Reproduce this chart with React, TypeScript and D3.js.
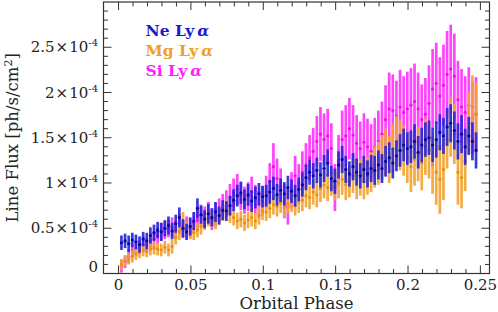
import * as d3 from 'd3';

// phase bins (uniform), flux values in units of 1e-5 ph/s/cm^2
const phaseStart = 0.002;
const phaseStep = 0.0025;

const neFlux = [
  3.4, 3.6, 3.3, 3.7, 3.5, 3.2, 3.8, 3.6, 4.2, 4.5,
  4.8, 4.6, 5.0, 5.3, 4.7, 5.5, 6.2, 5.0, 4.6, 5.2,
  5.8, 7.2, 6.5, 6.0, 6.6, 6.2, 6.8, 6.4, 7.0, 6.9,
  7.5, 8.1, 8.6, 8.9, 8.2, 8.7, 8.0, 8.4, 8.8, 8.5,
  8.6, 9.0, 9.4, 8.7, 9.2, 8.8, 9.5, 9.1, 8.6, 9.3,
  9.8, 10.6, 11.2, 10.8, 11.4, 10.9, 11.6, 12.2, 10.5, 10.2,
  12.0, 12.6, 11.5, 11.0, 11.8, 11.2, 10.8, 11.5, 11.0, 11.6,
  11.4, 12.0, 11.6, 12.4, 12.8, 12.2, 13.0, 13.6, 14.2, 13.8,
  14.0, 14.6, 13.4, 14.2, 14.8, 15.0, 14.2, 14.8, 15.6, 15.2,
  16.2, 16.6, 15.8, 14.6, 15.4, 14.0, 15.2, 14.6, 13.6,
];
const neErr = [
  0.8, 0.8, 0.9, 0.8, 0.8, 0.9, 0.8, 0.9, 0.9, 0.9,
  0.9, 1.0, 0.9, 1.0, 0.9, 1.0, 1.1, 1.0, 0.9, 1.0,
  1.0, 1.1, 1.0, 1.0, 1.1, 1.0, 1.1, 1.0, 1.1, 1.1,
  1.1, 1.2, 1.2, 1.2, 1.1, 1.2, 1.2, 1.2, 1.2, 1.2,
  1.2, 1.3, 1.3, 1.2, 1.3, 1.3, 1.3, 1.3, 1.2, 1.3,
  1.3, 1.4, 1.4, 1.4, 1.4, 1.4, 1.5, 1.5, 1.4, 1.4,
  1.5, 1.5, 1.5, 1.4, 1.5, 1.5, 1.4, 1.5, 1.5, 1.5,
  1.6, 1.6, 1.6, 1.7, 1.7, 1.7, 1.7, 1.8, 1.8, 1.8,
  1.8, 1.9, 1.8, 1.9, 1.9, 1.9, 1.9, 2.0, 2.0, 2.0,
  2.1, 2.1, 2.1, 2.0, 2.1, 2.0, 2.1, 2.1, 2.0,
];

const mgFlux = [
  1.0, 1.4, 1.6, 1.9, 2.2, 2.4, 2.6, 2.5, 2.7, 2.8,
  2.7, 2.6, 2.9, 2.6, 3.0, 4.0, 4.6, 5.8, 4.8, 4.6,
  4.5, 4.8, 5.2, 5.7, 6.1, 6.0, 5.8, 6.3, 6.8, 7.2,
  6.6, 6.2, 5.8, 6.0, 5.6, 5.9, 6.2, 5.8, 6.4, 6.9,
  6.8, 7.2, 7.6, 7.4, 7.8, 7.3, 7.7, 8.0, 7.5, 7.9,
  8.1, 8.6, 8.4, 9.0, 8.7, 9.4, 9.8, 9.5, 10.2, 9.7,
  10.0, 10.4, 9.8, 10.2, 10.8, 10.1, 10.6, 10.2, 10.8, 11.2,
  11.8, 12.2, 12.8, 13.4, 12.6, 13.8, 14.6, 14.2, 13.6, 12.8,
  11.8, 12.6, 13.2, 12.2, 14.0, 13.6, 12.0, 11.2, 10.4, 11.5,
  14.8, 16.2, 15.4, 11.2, 10.6, 12.4, 16.6, 18.4, 17.6,
];
const mgErr = [
  0.6, 0.6, 0.6, 0.7, 0.7, 0.7, 0.7, 0.7, 0.7, 0.7,
  0.7, 0.7, 0.7, 0.7, 0.8, 0.8, 0.9, 1.0, 0.9, 0.8,
  0.8, 0.8, 0.9, 0.9, 0.9, 0.9, 0.9, 0.9, 1.0, 1.0,
  1.0, 0.9, 0.9, 0.9, 0.9, 0.9, 1.0, 0.9, 1.0, 1.0,
  1.0, 1.1, 1.1, 1.1, 1.1, 1.1, 1.1, 1.2, 1.1, 1.2,
  1.2, 1.3, 1.3, 1.4, 1.4, 1.5, 1.5, 1.5, 1.6, 1.6,
  1.7, 1.7, 1.7, 1.8, 1.9, 1.9, 2.0, 2.0, 2.1, 2.2,
  2.3, 2.4, 2.5, 2.6, 2.6, 2.7, 2.8, 2.8, 2.8, 2.8,
  2.8, 2.9, 3.0, 3.0, 3.1, 3.1, 3.2, 3.6, 3.8, 3.4,
  3.2, 3.3, 3.3, 3.6, 3.4, 3.3, 3.4, 3.5, 3.5,
];

const siFlux = [
  0.8, 1.3, 1.9, 2.5, 2.7, 2.9, 3.2, 3.1, 3.6, 3.8,
  4.2, 4.6, 4.8, 5.0, 5.1, 4.8, 5.5, 4.9, 5.2, 5.0,
  5.6, 5.9, 6.4, 6.2, 6.6, 6.0, 6.5, 7.0, 7.4, 7.8,
  8.4, 8.9, 9.3, 8.6, 8.1, 8.5, 9.0, 8.2, 7.6, 8.0,
  9.0, 10.2, 11.8, 10.5, 9.6, 8.0, 7.4, 9.2, 10.8, 10.0,
  11.2, 12.0, 12.8, 13.5, 14.6, 15.4, 14.8, 15.2, 13.8, 9.5,
  12.5, 14.8, 15.2, 16.0, 15.3, 14.4, 13.8, 14.5, 14.0, 13.5,
  14.0, 14.6, 15.4, 17.0, 18.2, 18.0, 17.4, 18.4, 17.8, 18.2,
  18.6, 19.0, 18.2, 17.0, 17.6, 18.8, 20.4, 21.0, 19.6, 20.8,
  22.0, 22.6, 21.8, 19.2, 18.4, 17.8, 18.6, 17.2, 17.6,
];
const siErr = [
  0.7, 0.7, 0.8, 0.8, 0.8, 0.8, 0.9, 0.9, 0.9, 0.9,
  0.9, 1.0, 1.0, 1.0, 1.1, 1.0, 1.1, 1.0, 1.1, 1.1,
  1.1, 1.2, 1.2, 1.2, 1.3, 1.2, 1.3, 1.3, 1.4, 1.4,
  1.5, 1.6, 1.7, 1.6, 1.5, 1.6, 1.7, 1.6, 1.5, 1.6,
  1.8, 2.0, 2.6, 2.2, 2.0, 1.9, 2.0, 2.0, 2.2, 2.1,
  2.3, 2.4, 2.5, 2.6, 2.8, 3.0, 2.9, 3.0, 2.8, 2.6,
  2.8, 3.2, 3.4, 3.4, 3.3, 3.1, 3.0, 3.2, 3.1, 3.0,
  3.2, 3.4, 3.6, 3.8, 4.0, 4.0, 3.9, 4.1, 4.0, 4.1,
  4.1, 4.2, 4.0, 3.9, 4.0, 4.2, 4.4, 4.5, 4.3, 4.5,
  4.8, 4.9, 4.7, 4.3, 4.2, 4.0, 4.2, 4.0, 4.1,
];

const xMajor = [0, 0.05, 0.1, 0.15, 0.2, 0.25];
const xLabels = ['0', '0.05', '0.1', '0.15', '0.2', '0.25'];
const yMajor = [0, 0.5e-4, 1e-4, 1.5e-4, 2e-4, 2.5e-4];
const yLabels = ['0', '0.5', '1', '1.5', '2', '2.5'];

const series = [
  { name: 'Si Ly', flux: siFlux, err: siErr, bar: '#ff30ff', dot: '#f010e8' },
  { name: 'Mg Ly', flux: mgFlux, err: mgErr, bar: '#f2a230', dot: '#e89010' },
  { name: 'Ne Ly', flux: neFlux, err: neErr, bar: '#2424dc', dot: '#08089a' },
];
const legend = [
  { name: 'Ne Ly', color: '#1a1ad0' },
  { name: 'Mg Ly', color: '#f0a028' },
  { name: 'Si Ly', color: '#ff22ff' },
];

const W = 498;
const H = 312;
const L = 103.5, R = 489.5, T = 2, B = 273.5;
const font = '"DejaVu Serif", serif';

export default function App() {
  const x = d3.scaleLinear().domain([-0.0104, 0.2563]).range([L, R]);
  const y = d3.scaleLinear().domain([0, 3e-4]).range([B, T]);
  const unit = 1e-5;

  const xMinor = d3.range(0, 0.2501, 0.01).filter(v => !xMajor.some(m => Math.abs(m - v) < 1e-6));
  const yMinor = d3.range(1e-5, 3e-4, 1e-5).filter(v => !yMajor.some(m => Math.abs(m - v) < 1e-9));

  return (
    <svg width={W} height={H} style={{ position: 'absolute', left: 0, top: 0, background: '#fff' }}>
      {/* data: error bars and points */}
      {series.map(s => (
        <g key={s.name}>
          {s.flux.map((f, i) => {
            const px = x(phaseStart + i * phaseStep);
            return (
              <line key={'b' + i} x1={px} x2={px}
                y1={y((f - s.err[i]) * unit)} y2={y((f + s.err[i]) * unit)}
                stroke={s.bar} strokeWidth={2.7} strokeOpacity={0.9} />
            );
          })}
          {s.flux.map((f, i) => (
            <circle key={'d' + i} cx={x(phaseStart + i * phaseStep)} cy={y(f * unit)} r={1.6} fill={s.dot} />
          ))}
        </g>
      ))}

      {/* frame */}
      <rect x={L} y={T} width={R - L} height={B - T} fill="none" stroke="#333" strokeWidth={1.2} />

      {/* x ticks, bottom and top */}
      {xMajor.map(v => (
        <g key={'xm' + v}>
          <line x1={x(v)} x2={x(v)} y1={B} y2={B - 8} stroke="#333" strokeWidth={1} />
          <line x1={x(v)} x2={x(v)} y1={T} y2={T + 8} stroke="#333" strokeWidth={1} />
        </g>
      ))}
      {xMinor.map(v => (
        <g key={'xn' + v}>
          <line x1={x(v)} x2={x(v)} y1={B} y2={B - 4.5} stroke="#333" strokeWidth={1} />
          <line x1={x(v)} x2={x(v)} y1={T} y2={T + 4.5} stroke="#333" strokeWidth={1} />
        </g>
      ))}
      {/* y ticks, left and right */}
      {yMajor.map(v => (
        <g key={'ym' + v}>
          <line x1={L} x2={L + 8} y1={y(v)} y2={y(v)} stroke="#333" strokeWidth={1} />
          <line x1={R} x2={R - 8} y1={y(v)} y2={y(v)} stroke="#333" strokeWidth={1} />
        </g>
      ))}
      {yMinor.map(v => (
        <g key={'yn' + v}>
          <line x1={L} x2={L + 4.5} y1={y(v)} y2={y(v)} stroke="#333" strokeWidth={1} />
          <line x1={R} x2={R - 4.5} y1={y(v)} y2={y(v)} stroke="#333" strokeWidth={1} />
        </g>
      ))}

      {/* x tick labels */}
      {xMajor.map((v, i) => (
        <text key={'xl' + v} x={x(v)} y={290} textAnchor="middle" fontFamily={font} fontSize={15} fill="#222">
          {xLabels[i]}
        </text>
      ))}
      {/* y tick labels */}
      {yMajor.map((v, i) =>
        v === 0 ? (
          <text key="yl0" x={98} y={272} textAnchor="end" fontFamily={font} fontSize={15} fill="#222">0</text>
        ) : (
          <text key={'yl' + v} x={98} y={y(v) + 5} textAnchor="end" fontFamily={font} fontSize={15} fill="#222">
            {yLabels[i]}
            <tspan dx={1}>×</tspan>
            <tspan dx={1}>10</tspan>
            <tspan dy={-6} fontSize={10}>-4</tspan>
          </text>
        )
      )}

      {/* axis titles */}
      <text x={(L + R) / 2} y={309} textAnchor="middle" fontFamily={font} fontSize={16.5} fill="#222">Orbital Phase</text>
      <text transform={`translate(18,${(T + B) / 2}) rotate(-90)`} textAnchor="middle" fontFamily={font} fontSize={16.5} fill="#222">
        Line Flux [ph/s/cm<tspan dy={-6} fontSize={11}>2</tspan><tspan dy={6}>]</tspan>
      </text>

      {/* legend */}
      {legend.map((l, i) => (
        <text key={l.name} x={145.5} y={36 + i * 20} fontFamily={font} fontSize={15.5} fontWeight="bold" fill={l.color}>
          {l.name}
          <tspan dx={3} fontStyle="italic">α</tspan>
        </text>
      ))}
    </svg>
  );
}
